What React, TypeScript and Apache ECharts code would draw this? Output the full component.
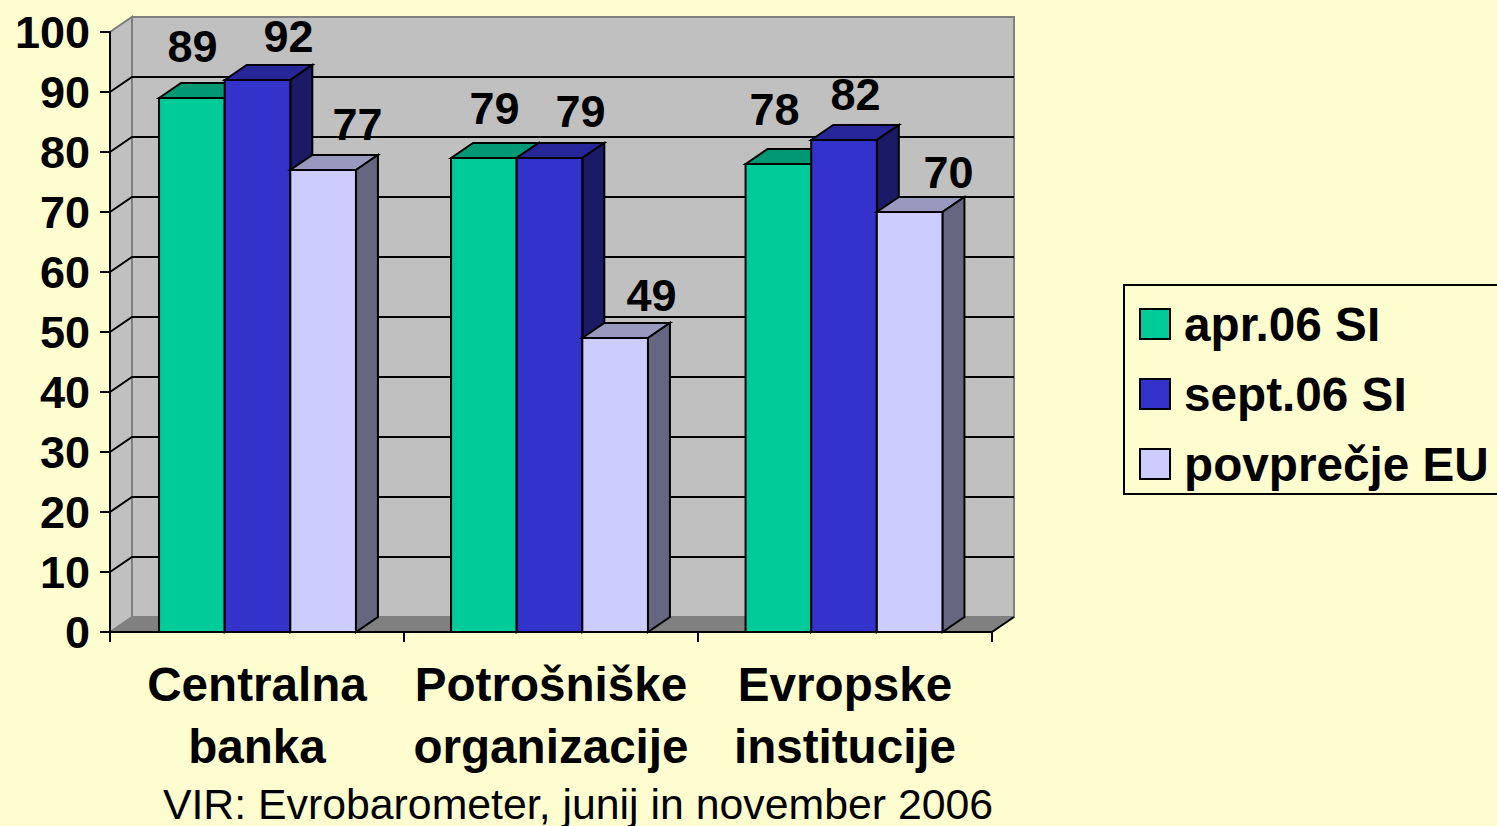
import React, { useEffect, useRef } from "react";
import * as echarts from "echarts";

const categories = ["Centralna\nbanka", "Potrošniške\norganizacije", "Evropske\ninstitucije"];
const seriesNames = ["apr.06 SI", "sept.06 SI", "povprečje EU"];
const aprValues = [89, 79, 78];
const septValues = [92, 79, 82];
const euValues = [77, 49, 70];
const gridValues = [10, 20, 30, 40, 50, 60, 70, 80, 90];

// Hand placement of the value labels relative to each bar's front-top centre
const aprLabelShift = [[2, -52], [10, -50], [-4, -55]];
const septLabelShift = [[32, -44], [30, -47], [11, -46]];
const euLabelShift = [[35, -46], [35, -43], [38, -40]];
// Small per-cluster horizontal nudge seen in the reference
const clusterNudge = [0.5, -1.5, -1];

const BG = "#FDFDD0";
const DX = 22;
const DY = 15;
const FONT = '"Liberation Sans", Arial, sans-serif';

const palette = [
  { front: "#00CC99", top: "#009973", side: "#006B50" },
  { front: "#3333CC", top: "#262699", side: "#1A1A66" },
  { front: "#CCCCFF", top: "#9999BF", side: "#666680" },
];

function wallRender(params: any, api: any) {
  const cs = params.coordSys;
  const x0 = cs.x;
  const x1 = cs.x + cs.width;
  const y0 = api.coord([0, 0])[1];
  const y100 = api.coord([0, 100])[1];
  const children: any[] = [
    { type: "polygon", shape: { points: [[x0, y0], [x0 + DX, y0 - DY], [x0 + DX, y100 - DY], [x0, y100]] }, style: { fill: "#C0C0C0", stroke: "#808080", lineWidth: 2 } },
    { type: "rect", shape: { x: x0 + DX, y: y100 - DY, width: x1 - x0, height: y0 - y100 }, style: { fill: "#C0C0C0", stroke: "#808080", lineWidth: 2 } },
    { type: "polygon", shape: { points: [[x0, y0], [x0 + DX, y0 - DY], [x1 + DX, y0 - DY], [x1, y0]] }, style: { fill: "#808080", stroke: "#808080", lineWidth: 1 } },
  ];
  gridValues.forEach((v) => {
    const y = api.coord([0, v])[1];
    children.push({
      type: "polyline",
      shape: { points: [[x0, y], [x0 + DX, y - DY], [x1 + DX, y - DY]] },
      style: { fill: "none", stroke: "#000", lineWidth: 2 },
    });
  });
  children.push({
    type: "line",
    shape: { x1: x1, y1: y0, x2: x1 + DX, y2: y0 - DY },
    style: { stroke: "#000", lineWidth: 2 },
  });
  return { type: "group", children };
}

function barRender(seriesIndex: number, shifts: number[][]) {
  return (params: any, api: any) => {
    const i = api.value(0);
    const v = api.value(1);
    const c = palette[seriesIndex];
    const [cx, top] = api.coord([i, v]);
    const base = api.coord([i, 0])[1];
    const band = api.size([1, 0])[0];
    const w = band / 4.48;
    const l = cx + clusterNudge[params.dataIndex] - 1.5 * w + seriesIndex * w;
    const r = l + w;
    const line = { stroke: "#000", lineWidth: 2, lineJoin: "miter" };
    const sh = shifts[params.dataIndex];
    return {
      type: "group",
      children: [
        { type: "polygon", shape: { points: [[l, top], [l + DX, top - DY], [r + DX, top - DY], [r, top]] }, style: { fill: c.top, ...line } },
        { type: "polygon", shape: { points: [[r, top], [r + DX, top - DY], [r + DX, base - DY], [r, base]] }, style: { fill: c.side, ...line } },
        { type: "rect", shape: { x: l, y: top, width: w, height: base - top }, style: { fill: c.front, ...line } },
        {
          type: "text",
          z2: 50,
          x: cx - 0.5 + (seriesIndex - 1) * 66 + sh[0],
          y: top + sh[1],
          style: { text: String(v), fill: "#000", font: `bold 45px ${FONT}`, align: "center", verticalAlign: "middle" },
        },
      ],
    };
  };
}

export default function App() {
  const ref = useRef<HTMLDivElement>(null);
  useEffect(() => {
    document.body.style.margin = "0";
    document.body.style.background = BG;
    document.body.style.overflow = "hidden";
    const chart = echarts.init(ref.current!, undefined, { renderer: "svg" });
    const columns = [aprValues, septValues, euValues];
    const shifts = [aprLabelShift, septLabelShift, euLabelShift];
    chart.setOption({
      animation: false,
      backgroundColor: BG,
      title: {
        text: "VIR: Evrobarometer, junij in november 2006",
        left: 578,
        top: 782,
        textAlign: "center",
        padding: 0,
        textStyle: { fontFamily: FONT, fontSize: 42.8, fontWeight: "normal", color: "#000" },
      },
      legend: {
        orient: "vertical",
        left: 1124,
        top: 285,
        data: seriesNames,
        icon: "rect",
        itemWidth: 30,
        itemHeight: 30,
        itemGap: 20,
        padding: [14, 15, 5, 15],
        borderColor: "#000",
        borderWidth: 2,
        backgroundColor: "transparent",
        textStyle: { fontFamily: FONT, fontSize: 47.7, fontWeight: "bold", color: "#000", lineHeight: 50, padding: [0, 0, 0, 9] },
      },
      grid: { left: 110, right: 505, top: 32, bottom: 194, containLabel: false },
      xAxis: {
        type: "category",
        data: categories,
        z: 10,
        axisLine: { lineStyle: { color: "#000", width: 2 } },
        axisTick: { show: true, length: 10, lineStyle: { color: "#000", width: 2 } },
        axisLabel: { interval: 0, margin: 21, fontFamily: FONT, fontSize: 47.6, fontWeight: "bold", color: "#000", lineHeight: 62 },
      },
      yAxis: {
        type: "value",
        min: 0,
        max: 100,
        interval: 10,
        z: 10,
        axisLine: { show: true, lineStyle: { color: "#000", width: 2 } },
        axisTick: { show: true, length: 10, lineStyle: { color: "#000", width: 2 } },
        axisLabel: { margin: 20, fontFamily: FONT, fontSize: 45, fontWeight: "bold", color: "#000" },
        splitLine: { show: false },
      },
      series: [
        { type: "custom", name: "walls", silent: true, data: [[0, 0]], renderItem: wallRender, z: 1 },
        ...seriesNames.map((name, s) => ({
          type: "custom",
          name,
          z: 2 + s,
          encode: { x: 0, y: 1 },
          itemStyle: { color: palette[s].front, borderColor: "#000", borderWidth: 2 },
          data: categories.map((_, i) => [i, columns[s][i]]),
          renderItem: barRender(s, shifts[s]),
        })),
      ],
    });
    return () => chart.dispose();
  }, []);
  return <div ref={ref} style={{ position: "absolute", left: 0, top: 0, width: 1497, height: 826 }} />;
}
